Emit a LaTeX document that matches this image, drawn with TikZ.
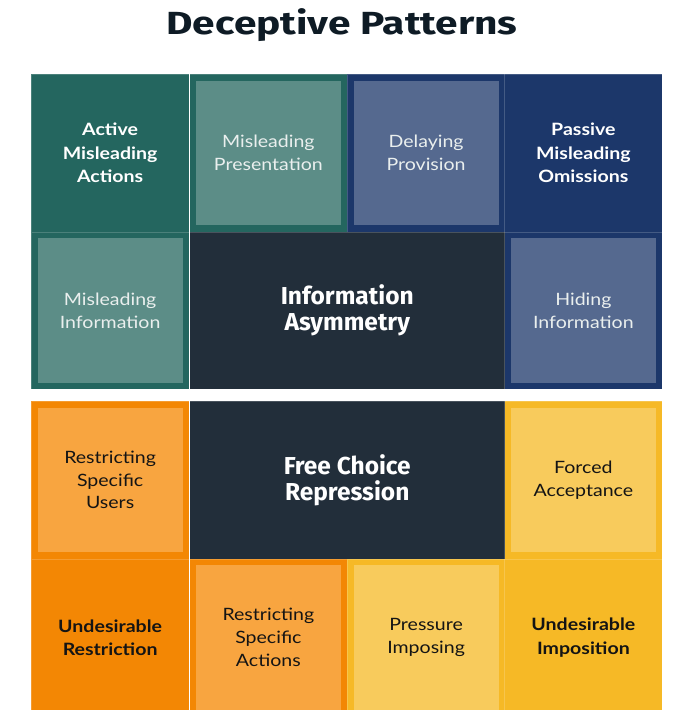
\documentclass[tikz,border=0pt]{standalone}
\usepackage{fontspec}
\setmainfont{Lato}[FakeStretch=1.15]
\newfontfamily\headfont{Fira Sans}
\newfontfamily\titlefont{Fira Sans}[FakeStretch=1.27]

\definecolor{tealdark}{HTML}{24665F}
\definecolor{teallight}{HTML}{5C8D87}
\definecolor{navydark}{HTML}{1C376A}
\definecolor{navylight}{HTML}{55698F}
\definecolor{slate}{HTML}{222E3A}
\definecolor{orangedark}{HTML}{F38704}
\definecolor{orangelight}{HTML}{F8A540}
\definecolor{yellowdark}{HTML}{F6B926}
\definecolor{yellowlight}{HTML}{F8CB5C}
\definecolor{titleink}{HTML}{0E1B25}
\definecolor{lighttext}{HTML}{EAEFEE}
\definecolor{darktext}{HTML}{141414}

\tikzset{
  cell/.style={anchor=north west, inner sep=0pt, minimum width=157.75pt,
    minimum height=157.5pt, draw=white, draw opacity=0.18, line width=0.5pt},
  wide/.style={cell, minimum width=315.5pt},
  box/.style={anchor=center, inner sep=0pt, minimum width=145pt, minimum height=144.5pt},
  label/.style={align=center, font=\fontsize{17}{22.7}\selectfont},
  strong/.style={align=center, font=\fontsize{17}{23.3}\selectfont\bfseries},
  heading/.style={align=center, text=white, font=\headfont\fontsize{24.5}{26}\selectfont\bfseries}
}

\begin{document}
\begin{tikzpicture}[x=1pt, y=-1pt]
  \useasboundingbox (0,0) rectangle (678,710);
  \begin{scope}
    \clip (0,0) rectangle (678,710);

    % title
    \node[text=titleink, font=\titlefont\fontsize{32}{32}\selectfont\bfseries] (title) at (342,25) {Deceptive Patterns};

    % information asymmetry block
    \node[cell, fill=tealdark] (c11) at (31,74) {};
    \node[cell, fill=tealdark] (c12) at (189.25,74) {};
    \node[cell, fill=navydark] (c13) at (347,74) {};
    \node[cell, fill=navydark] (c14) at (504.25,74) {};
    \node[cell, fill=tealdark] (c21) at (31,231.5) {};
    \node[wide, fill=slate] (c22) at (189.25,231.5) {};
    \node[cell, fill=navydark] (c24) at (504.25,231.5) {};

    \node[box, fill=teallight] (b12) at (c12.center) {};
    \node[box, fill=navylight] (b13) at (c13.center) {};
    \node[box, fill=teallight] (b21) at (c21.center) {};
    \node[box, fill=navylight] (b24) at (c24.center) {};

    \node[strong, text=white] (activeMis) at (c11.center) {Active\\Misleading\\Actions};
    \node[label, text=lighttext] (misPres) at (b12.center) {Misleading\\Presentation};
    \node[label, text=lighttext] (delayProv) at (b13.center) {Delaying\\Provision};
    \node[strong, text=white] (passiveMis) at (c14.center) {Passive\\Misleading\\Omissions};
    \node[label, text=lighttext] (misInfo) at (b21.center) {Misleading\\Information};
    \node[heading] (infoAsym) at (c22.center) {Information\\Asymmetry};
    \node[label, text=lighttext] (hideInfo) at (b24.center) {Hiding\\Information};

    % free choice repression block
    \node[cell, fill=orangedark] (d11) at (31,401) {};
    \node[wide, fill=slate] (d12) at (189.25,401) {};
    \node[cell, fill=yellowdark] (d14) at (504.25,401) {};
    \node[cell, fill=orangedark] (d21) at (31,558.5) {};
    \node[cell, fill=orangedark] (d22) at (189.25,558.5) {};
    \node[cell, fill=yellowdark] (d23) at (347,558.5) {};
    \node[cell, fill=yellowdark] (d24) at (504.25,558.5) {};

    \node[box, fill=orangelight] (e11) at (d11.center) {};
    \node[box, fill=yellowlight] (e14) at (d14.center) {};
    \node[box, fill=orangelight] (e22) at (d22.center) {};
    \node[box, fill=yellowlight] (e23) at (d23.center) {};

    \node[label, text=darktext] (restrUsers) at (e11.center) {Restricting\\Specific\\Users};
    \node[heading] (freeChoice) at (d12.center) {Free Choice\\Repression};
    \node[label, text=darktext] (forcedAcc) at (e14.center) {Forced\\Acceptance};
    \node[strong, text=darktext] (undesRestr) at (d21.center) {Undesirable\\Restriction};
    \node[label, text=darktext] (restrActions) at (e22.center) {Restricting\\Specific\\Actions};
    \node[label, text=darktext] (pressure) at (e23.center) {Pressure\\Imposing};
    \node[strong, text=darktext] (undesImp) at (d24.center) {Undesirable\\Imposition};
  \end{scope}
\end{tikzpicture}
\end{document}
